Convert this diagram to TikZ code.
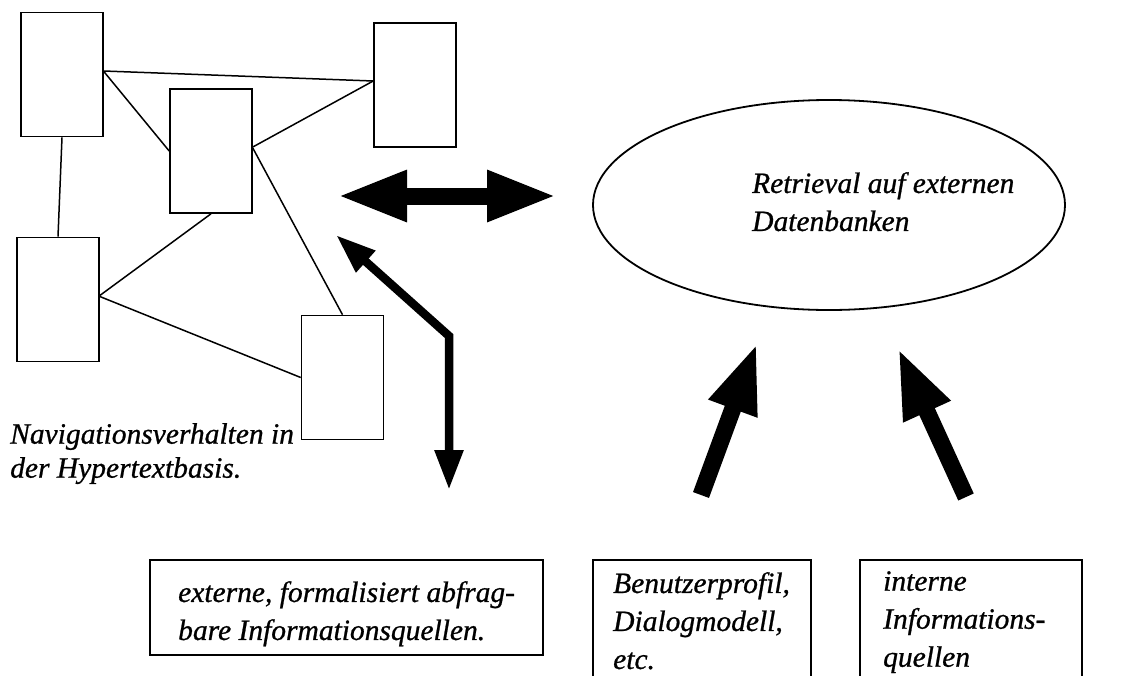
\documentclass[tikz,border=0pt]{standalone}
\usepackage{fontspec}
\setmainfont{Liberation Serif}
\usetikzlibrary{shapes.geometric,arrows.meta}
\begin{document}
\begin{tikzpicture}[x=1pt,y=-1pt,
  nodebox/.style={draw,line width=1.6pt,minimum width=82pt,minimum height=124pt,inner sep=0pt},
  link/.style={line width=1.5pt},
  lbl/.style={font=\fontsize{29.5}{38}\selectfont\itshape\addfontfeature{FakeBold=0.8},align=left,inner sep=0pt,anchor=north west},
  infobox/.style={draw,line width=1.6pt},
  fatdouble/.style={line width=17pt,{Triangle[length=70pt,width=47pt]}-{Triangle[length=70pt,width=47pt]}},
  fatup/.style={line width=17pt,-{Triangle[length=70pt,width=47pt]}},
  bentarrow/.style={line width=8.5pt,line join=miter,{Triangle[length=40pt,width=27pt]}-{Triangle[length=40pt,width=27pt]}}
]
\useasboundingbox (0,0) rectangle (1124,675);

% hypertext graph
\node[nodebox] (A) at (62,74.5) {};
\node[nodebox] (B) at (211,151) {};
\node[nodebox] (C) at (415,85) {};
\node[nodebox] (D) at (58,299.5) {};
\node[nodebox] (E) at (342.5,377.5) {};

\draw[link] ([yshift=3.5pt]A.east) -- ([yshift=4pt]C.west);
\draw[link] ([yshift=3pt]A.east) -- (B.west);
\draw[link] ([yshift=4pt]C.west) -- ([yshift=4pt]B.east);
\draw[link] (A.south) -- (D.north);
\draw[link] (B.south) -- ([yshift=4pt]D.east);
\draw[link] ([yshift=3pt]B.east) -- (E.north);
\draw[link] ([yshift=3pt]D.east) -- (E.west);

\node[lbl,font=\fontsize{29.5}{34}\selectfont\itshape\addfontfeature{FakeBold=0.8}] (navtext) at (10,423)
  {Navigationsverhalten in\\der Hypertextbasis.};

% ellipse
\node[ellipse,draw,line width=1.8pt,minimum width=472pt,minimum height=210pt] (retr) at (829,205) {};
\node[lbl] (retrtext) at (752,172) {Retrieval auf externen\\Datenbanken};

% double arrow between graph and ellipse
\coordinate (dl) at (337,196);
\coordinate (dr) at (557,196);
\draw[fatdouble] (dl) -- (dr);

% bent arrow
\coordinate (bt) at (336,235);
\coordinate (bm) at (449,336);
\coordinate (bb) at (449,490);
\draw[bentarrow] (bt) -- (bm) -- (bb);

% up arrows
\coordinate (u1s) at (701,495);
\coordinate (u1e) at (757,343);
\coordinate (u2s) at (966,497);
\coordinate (u2e) at (898,348);
\draw[fatup] (u1s) -- (u1e);
\draw[fatup] (u2s) -- (u2e);

% bottom boxes
\node[infobox,minimum width=393pt,minimum height=95pt] (ext) at (346.5,607.5) {};
\node[lbl] (exttext) at (178,581) {externe, formalisiert abfrag-\\bare Informationsquellen.};

\coordinate (p1) at (593,690);
\coordinate (p2) at (811,690);
\draw[infobox] (p1) |- (811,560) -- (p2);
\node[lbl] (proftext) at (613,572) {Benutzerprofil,\\Dialogmodell,\\etc.};

\coordinate (q1) at (860,690);
\coordinate (q2) at (1082,690);
\draw[infobox] (q1) |- (1082,560) -- (q2);
\node[lbl] (inttext) at (883,571) {interne\\Informations-\\quellen};
\end{tikzpicture}
\end{document}
